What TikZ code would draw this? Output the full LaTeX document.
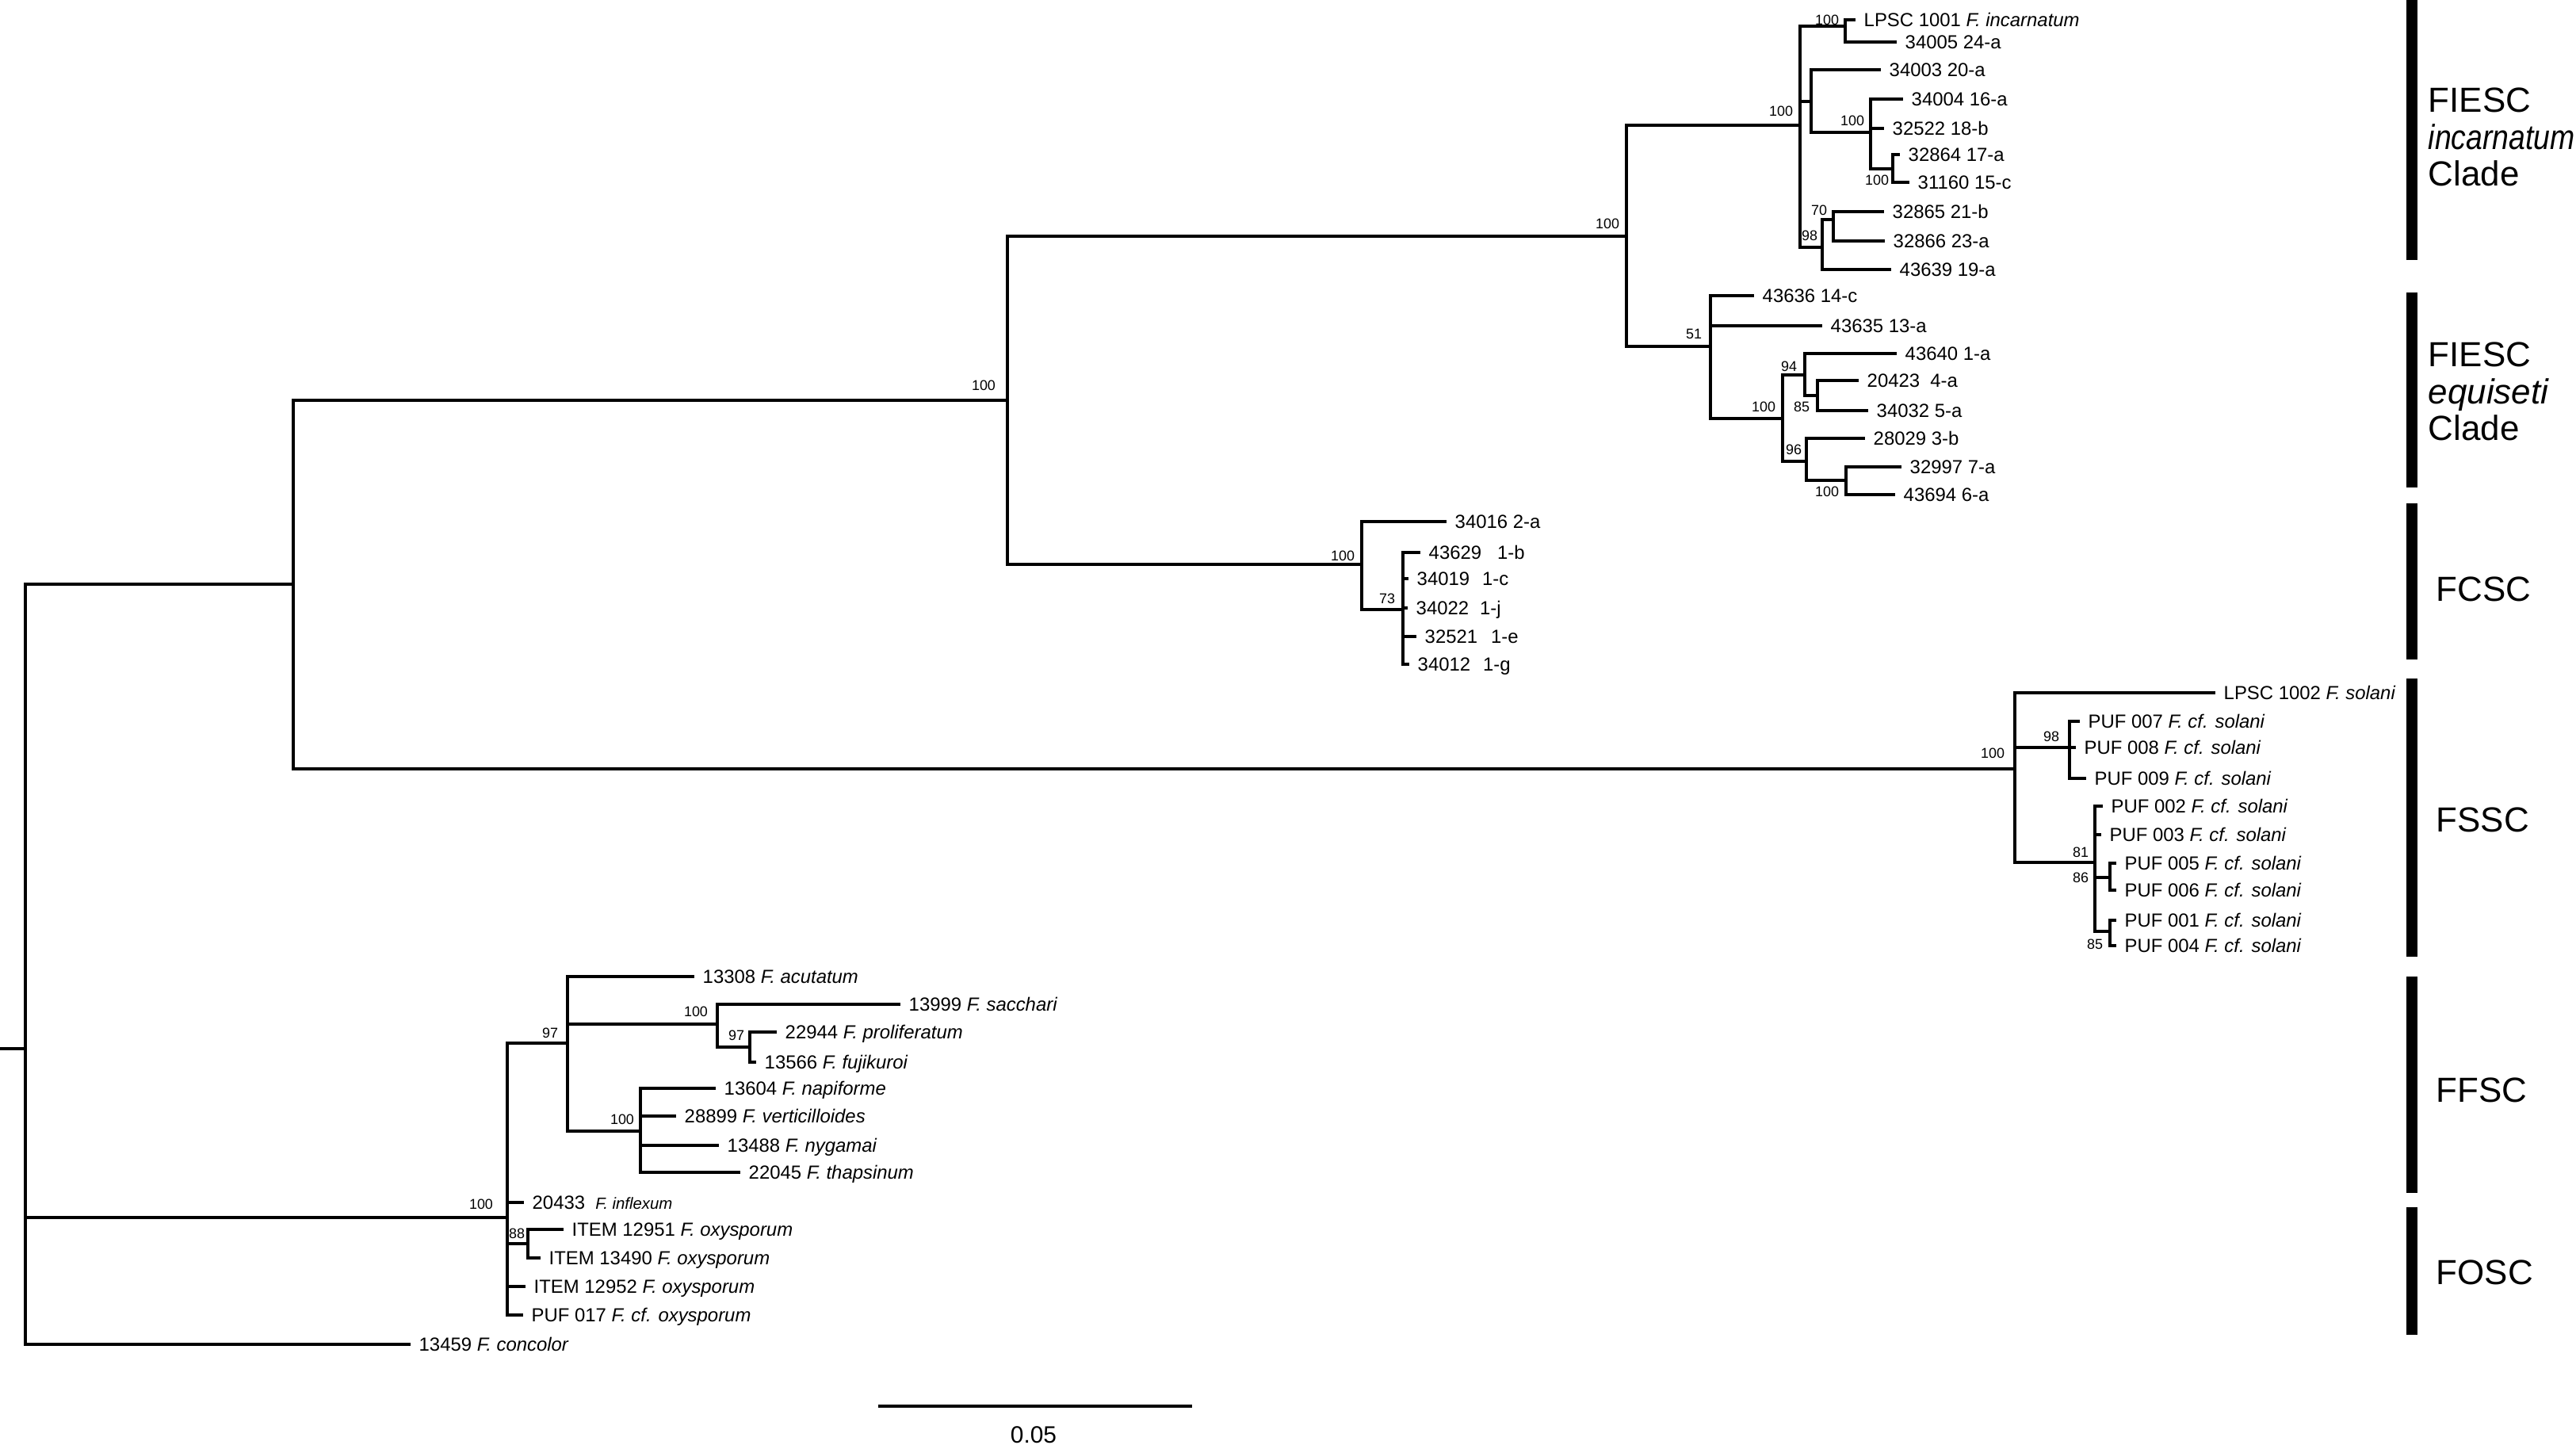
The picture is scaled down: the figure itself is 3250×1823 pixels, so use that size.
\documentclass[tikz,border=0pt]{standalone}
\usepackage{fontspec}
\setmainfont{Liberation Sans}
\begin{document}
\begin{tikzpicture}[x=0.1mm,y=-0.1mm,
  br/.style={line width=1.05pt,line cap=rect},
  leaf/.style={anchor=west,inner xsep=1.2mm,inner ysep=0pt,text height=4.9pt,text depth=0pt,font=\fontsize{6.8}{8}\selectfont},
  bs/.style={inner sep=0pt,font=\fontsize{5.1}{6}\selectfont},
  cbar/.style={line width=1.4mm},
  clade/.style={anchor=west,align=left,inner sep=0pt,font=\fontsize{12.5}{13.3}\selectfont}]
\useasboundingbox (0,0) rectangle (3250,1823);
% inner nodes
\coordinate (stub) at (0,1323);
\coordinate (root) at (32,1323);
\coordinate (nA) at (370,737);
\coordinate (nB) at (1271,505);
\coordinate (fiesc) at (2052,298);
\coordinate (inc) at (2271,158);
\coordinate (inc1) at (2328,33);
\coordinate (inc2) at (2285,128);
\coordinate (inc3) at (2360,167);
\coordinate (inc4) at (2388,213);
\coordinate (inc5) at (2299,312);
\coordinate (inc6) at (2313,277);
\coordinate (equ) at (2158,437);
\coordinate (equ1) at (2249,528);
\coordinate (equ2) at (2277,473);
\coordinate (equ3) at (2293,499);
\coordinate (equ4) at (2279,582);
\coordinate (equ5) at (2329,606);
\coordinate (fcsc) at (1718,712);
\coordinate (fcsc1) at (1770,769);
\coordinate (fssc) at (2542,970);
\coordinate (fssc1) at (2611,943);
\coordinate (fssc2) at (2643,1088);
\coordinate (fssc3) at (2662,1107);
\coordinate (fssc4) at (2662,1175);
\coordinate (ffo) at (640,1536);
\coordinate (ffsc) at (716,1316);
\coordinate (ffsc1) at (905,1292);
\coordinate (ffsc2) at (946,1321);
\coordinate (ffsc3) at (808,1427);
\coordinate (fosc1) at (666,1569);
% leaves
\node (i1) at (2339,25)[leaf] {LPSC 1001 \textit{F. incarnatum}};
\node (i2) at (2391,53)[leaf] {34005 24-a};
\node (i3) at (2371,88)[leaf] {34003 20-a};
\node (i4) at (2399,125)[leaf] {34004 16-a};
\node (i5) at (2375,162)[leaf] {32522 18-b};
\node (i6) at (2395,195)[leaf] {32864 17-a};
\node (i7) at (2407,230)[leaf] {31160 15-c};
\node (i8) at (2375,267)[leaf] {32865 21-b};
\node (i9) at (2376,304)[leaf] {32866 23-a};
\node (i10) at (2384,340)[leaf] {43639 19-a};
\node (e1) at (2211,373)[leaf] {43636 14-c};
\node (e2) at (2297,411)[leaf] {43635 13-a};
\node (e3) at (2391,446)[leaf] {43640 1-a};
\node (e4) at (2343,480)[leaf] {20423\ \ 4-a};
\node (e5) at (2355,518)[leaf] {34032 5-a};
\node (e6) at (2351,553)[leaf] {28029 3-b};
\node (e7) at (2397,589)[leaf] {32997 7-a};
\node (e8) at (2389,624)[leaf] {43694 6-a};
\node (c1) at (1823,658)[leaf] {34016 2-a};
\node (c2) at (1790,697)[leaf] {43629\hspace{2mm}1-b};
\node (c3) at (1775,730)[leaf] {34019\hspace{1.6mm}1-c};
\node (c4) at (1774,767)[leaf] {34022\hspace{1.4mm}1-j};
\node (c5) at (1785,803)[leaf] {32521\hspace{1.7mm}1-e};
\node (c6) at (1776,838)[leaf] {34012\hspace{1.6mm}1-g};
\node (s1) at (2793,874)[leaf] {LPSC 1002 \textit{F. solani}};
\node (s2) at (2622,910)[leaf] {PUF 007 \textit{F. cf. solani}};
\node (s3) at (2617,943)[leaf] {PUF 008 \textit{F. cf. solani}};
\node (s4) at (2630,982)[leaf] {PUF 009 \textit{F. cf. solani}};
\node (s5) at (2651,1017)[leaf] {PUF 002 \textit{F. cf. solani}};
\node (s6) at (2649,1053)[leaf] {PUF 003 \textit{F. cf. solani}};
\node (s7) at (2668,1089)[leaf] {PUF 005 \textit{F. cf. solani}};
\node (s8) at (2668,1123)[leaf] {PUF 006 \textit{F. cf. solani}};
\node (s9) at (2668,1161)[leaf] {PUF 001 \textit{F. cf. solani}};
\node (s10) at (2668,1193)[leaf] {PUF 004 \textit{F. cf. solani}};
\node (f1) at (874,1232)[leaf] {13308 \textit{F. acutatum}};
\node (f2) at (1134,1267)[leaf] {13999 \textit{F. sacchari}};
\node (f3) at (978,1302)[leaf] {22944 \textit{F. proliferatum}};
\node (f4) at (952,1340)[leaf] {13566 \textit{F. fujikuroi}};
\node (f5) at (901,1373)[leaf] {13604 \textit{F. napiforme}};
\node (f6) at (851,1408)[leaf] {28899 \textit{F. verticilloides}};
\node (f7) at (905,1445)[leaf] {13488 \textit{F. nygamai}};
\node (f8) at (932,1479)[leaf] {22045 \textit{F. thapsinum}};
\node (o1) at (659,1517)[leaf] {20433\ \ {\fontsize{5.8}{6}\selectfont\textit{F. inflexum}}};
\node (o2) at (709,1551)[leaf] {ITEM 12951 \textit{F. oxysporum}};
\node (o3) at (680,1587)[leaf] {ITEM 13490 \textit{F. oxysporum}};
\node (o4) at (661,1623)[leaf] {ITEM 12952 \textit{F. oxysporum}};
\node (o5) at (658,1659)[leaf] {PUF 017 \textit{F. cf. oxysporum}};
\node (out) at (516,1696)[leaf] {13459 \textit{F. concolor}};
% branches
\draw [br] (stub) -- (root);
\draw [br] (root) |- (nA) (root) |- (ffo) (root) |- (out);
\draw [br] (nA) |- (nB) (nA) |- (fssc);
\draw [br] (nB) |- (fiesc) (nB) |- (fcsc);
\draw [br] (fiesc) |- (inc) (fiesc) |- (equ);
\draw [br] (inc) |- (inc1) (inc) |- (inc2) (inc) |- (inc5);
\draw [br] (inc1) |- (i1) (inc1) |- (i2);
\draw [br] (inc2) |- (i3) (inc2) |- (inc3);
\draw [br] (inc3) |- (i4) (inc3) |- (i5) (inc3) |- (inc4);
\draw [br] (inc4) |- (i6) (inc4) |- (i7);
\draw [br] (inc5) |- (inc6) (inc5) |- (i10);
\draw [br] (inc6) |- (i8) (inc6) |- (i9);
\draw [br] (equ) |- (e1) (equ) |- (e2) (equ) |- (equ1);
\draw [br] (equ1) |- (equ2) (equ1) |- (equ4);
\draw [br] (equ2) |- (e3) (equ2) |- (equ3);
\draw [br] (equ3) |- (e4) (equ3) |- (e5);
\draw [br] (equ4) |- (e6) (equ4) |- (equ5);
\draw [br] (equ5) |- (e7) (equ5) |- (e8);
\draw [br] (fcsc) |- (c1) (fcsc) |- (fcsc1);
\draw [br] (fcsc1) |- (c2) (fcsc1) |- (c3) (fcsc1) |- (c4) (fcsc1) |- (c5) (fcsc1) |- (c6);
\draw [br] (fssc) |- (s1) (fssc) |- (fssc1) (fssc) |- (fssc2);
\draw [br] (fssc1) |- (s2) (fssc1) |- (s3) (fssc1) |- (s4);
\draw [br] (fssc2) |- (s5) (fssc2) |- (s6) (fssc2) |- (fssc3) (fssc2) |- (fssc4);
\draw [br] (fssc3) |- (s7) (fssc3) |- (s8);
\draw [br] (fssc4) |- (s9) (fssc4) |- (s10);
\draw [br] (ffo) |- (ffsc) (ffo) |- (o1) (ffo) |- (fosc1) (ffo) |- (o4) (ffo) |- (o5);
\draw [br] (ffsc) |- (f1) (ffsc) |- (ffsc1) (ffsc) |- (ffsc3);
\draw [br] (ffsc1) |- (f2) (ffsc1) |- (ffsc2);
\draw [br] (ffsc2) |- (f3) (ffsc2) |- (f4);
\draw [br] (ffsc3) |- (f5) (ffsc3) |- (f6) (ffsc3) |- (f7) (ffsc3) |- (f8);
\draw [br] (fosc1) |- (o2) (fosc1) |- (o3);
% support values
\node (b1) at (2028,282)[bs] {100};
\node (b2) at (1241,486)[bs] {100};
\node (b3) at (2247,140)[bs] {100};
\node (b4) at (2337,152)[bs] {100};
\node (b5) at (2368,227)[bs] {100};
\node (b6) at (2305,25)[bs] {100};
\node (b7) at (2295,265)[bs] {70};
\node (b8) at (2283,297)[bs] {98};
\node (b9) at (2137,421)[bs] {51};
\node (b10) at (2225,513)[bs] {100};
\node (b11) at (2257,462)[bs] {94};
\node (b12) at (2273,513)[bs] {85};
\node (b13) at (2263,567)[bs] {96};
\node (b14) at (2305,620)[bs] {100};
\node (b15) at (1694,701)[bs] {100};
\node (b16) at (1750,755)[bs] {73};
\node (b17) at (2514,950)[bs] {100};
\node (b18) at (2588,929)[bs] {98};
\node (b19) at (2625,1075)[bs] {81};
\node (b20) at (2625,1107)[bs] {86};
\node (b21) at (2643,1191)[bs] {85};
\node (b22) at (694,1303)[bs] {97};
\node (b23) at (878,1276)[bs] {100};
\node (b24) at (929,1306)[bs] {97};
\node (b25) at (785,1412)[bs] {100};
\node (b26) at (607,1519)[bs] {100};
\node (b27) at (652,1556)[bs] {88};
% clade bars
\draw [cbar] (3043,0) -- (3043,328);
\draw [cbar] (3043,369) -- (3043,615);
\draw [cbar] (3043,635) -- (3043,832);
\draw [cbar] (3043,856) -- (3043,1207);
\draw [cbar] (3043,1232) -- (3043,1505);
\draw [cbar] (3043,1523) -- (3043,1684);
\node (k1) at (3063,173)[clade] {FIESC\\\scalebox{0.85}[1]{\textit{incarnatum}}\\Clade};
\node (k2) at (3063,494)[clade] {FIESC\\\textit{equiseti}\\Clade};
\node (k3) at (3073,743)[clade] {FCSC};
\node (k4) at (3073,1034)[clade] {FSSC};
\node (k5) at (3073,1375)[clade] {FFSC};
\node (k6) at (3073,1605)[clade] {FOSC};
% scale
\coordinate (sb1) at (1108,1774);
\coordinate (sb2) at (1504,1774);
\draw [line width=1.2pt] (sb1) -- (sb2);
\node (sbl) at (1304,1810)[inner sep=0pt,font=\fontsize{8.5}{9}\selectfont] {0.05};
\end{tikzpicture}
\end{document}
